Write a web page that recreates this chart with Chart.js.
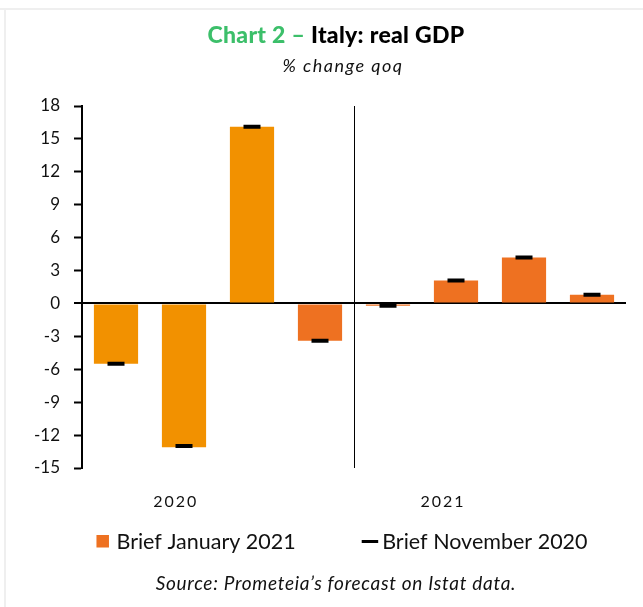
<!DOCTYPE html>
<html>
<head>
<meta charset="utf-8">
<script src="https://cdn.jsdelivr.net/npm/chart.js@4.4.1/dist/chart.umd.min.js"></script>
<style>
  html, body { margin: 0; padding: 0; background: #fff; }
  #wrap { width: 643px; height: 607px; }
</style>
</head>
<body>
<div id="wrap"><canvas id="gdpChart" width="643" height="607"></canvas></div>
<script>
const quarters  = ['Q1 2020', 'Q2 2020', 'Q3 2020', 'Q4 2020', 'Q1 2021', 'Q2 2021', 'Q3 2021', 'Q4 2021'];
const briefJan  = [-5.5, -13.1, 16.1, -3.4, -0.2, 2.1, 4.2, 0.8];
const briefNov  = [-5.5, -13.0, 16.1, -3.4, -0.2, 2.1, 4.2, 0.8];
const years     = ['2020', '2021'];
const seriesNames = ['Brief January 2021', 'Brief November 2020'];

const FONT = 'Lato, "Open Sans", sans-serif';
const YELLOW = '#F29100';
const ORANGE = '#EE7121';

// title, year labels, legend, source and the 2020/2021 divider
const extras = {
  id: 'extras',
  beforeDraw(chart) {
    const c = chart.ctx;
    c.save();
    c.fillStyle = '#efefef';
    c.fillRect(0, 8, chart.width, 2);
    c.fillRect(4, 8, 2, chart.height);
    c.restore();
  },
  afterDraw(chart) {
    const c = chart.ctx;
    const x = chart.scales.x, area = chart.chartArea;
    c.save();

    // title
    c.textBaseline = 'alphabetic';
    c.font = `900 23px ${FONT}`;
    c.letterSpacing = '0.3px';
    const t1 = 'Chart 2 – ', t2 = 'Italy: real GDP';
    const w1 = c.measureText(t1).width, w2 = c.measureText(t2).width;
    let tx = 336 - (w1 + w2) / 2;
    c.textAlign = 'left';
    c.fillStyle = '#3CBF6A';
    c.fillText(t1, tx, 43);
    c.fillStyle = '#000';
    c.fillText(t2, tx + w1, 43);

    c.textAlign = 'center';
    c.font = `italic 18px ${FONT}`;
    c.letterSpacing = '1.5px';
    c.fillStyle = '#111';
    c.fillText('% change qoq', 343, 72);
    c.letterSpacing = '0px';

    // divider between years
    const mid = (x.getPixelForValue(3) + x.getPixelForValue(4)) / 2;
    c.strokeStyle = '#000';
    c.lineWidth = 1;
    c.beginPath();
    c.moveTo(Math.round(mid) + 0.5, area.top);
    c.lineTo(Math.round(mid) + 0.5, area.bottom);
    c.stroke();

    // year labels
    c.font = `16px ${FONT}`;
    c.letterSpacing = '2px';
    c.fillStyle = '#111';
    c.fillText(years[0], x.getPixelForValue(0.88), 507);
    c.fillText(years[1], x.getPixelForValue(4.81), 507);
    c.letterSpacing = '0px';

    // legend
    c.font = `21.5px ${FONT}`;
    c.textAlign = 'left';
    const lw1 = c.measureText(seriesNames[0]).width;
    const lw2 = c.measureText(seriesNames[1]).width;
    const total = 12.5 + 7.5 + lw1 + 66 + 16.5 + 4 + lw2;
    let lx = 342 - total / 2;
    c.fillStyle = ORANGE;
    c.fillRect(lx, 535, 12.5, 12.5);
    c.fillStyle = '#111';
    c.fillText(seriesNames[0], lx + 20, 549);
    lx += 20 + lw1 + 66;
    c.strokeStyle = '#000';
    c.lineWidth = 3;
    c.beginPath();
    c.moveTo(lx, 541.5);
    c.lineTo(lx + 16.5, 541.5);
    c.stroke();
    c.fillText(seriesNames[1], lx + 20.5, 549);

    // source
    c.textAlign = 'center';
    c.font = `italic 19px ${FONT}`;
    c.letterSpacing = '0.7px';
    c.fillText('Source: Prometeia’s forecast on Istat data.', 336, 590);

    c.restore();
  }
};

new Chart(document.getElementById('gdpChart'), {
  data: {
    labels: quarters,
    datasets: [
      {
        type: 'line',
        label: seriesNames[1],
        data: briefNov,
        showLine: false,
        pointStyle: 'line',
        pointRadius: 8.5,
        pointHoverRadius: 8.5,
        pointBorderWidth: 4,
        pointBorderColor: '#000',
        pointBackgroundColor: '#000',
        order: 1,
      },
      {
        type: 'bar',
        label: seriesNames[0],
        data: briefJan,
        backgroundColor: ctx => ctx.dataIndex < 3 ? YELLOW : ORANGE,
        barPercentage: 0.65,
        categoryPercentage: 1,
        order: 2,
      },
    ],
  },
  options: {
    responsive: false,
    animation: false,
    layout: { padding: { top: 106, right: 17, bottom: 139, left: 0 } },
    plugins: {
      legend: { display: false },
      tooltip: { enabled: false },
    },
    scales: {
      x: { display: false, offset: true },
      y: {
        min: -15,
        max: 18,
        afterFit: s => { s.width = 82; },
        ticks: { stepSize: 3, color: '#111', padding: 14, font: { family: FONT, size: 17 } },
        grid: {
          color: c => c.tick && c.tick.value === 0 ? '#000' : 'rgba(0,0,0,0)',
          lineWidth: c => c.tick && c.tick.value === 0 ? 2 : 1,
          tickLength: 8,
          tickColor: '#000',
          tickWidth: 2,
        },
        border: { color: '#000', width: 2 },
      },
    },
  },
  plugins: [extras],
});
</script>
</body>
</html>
